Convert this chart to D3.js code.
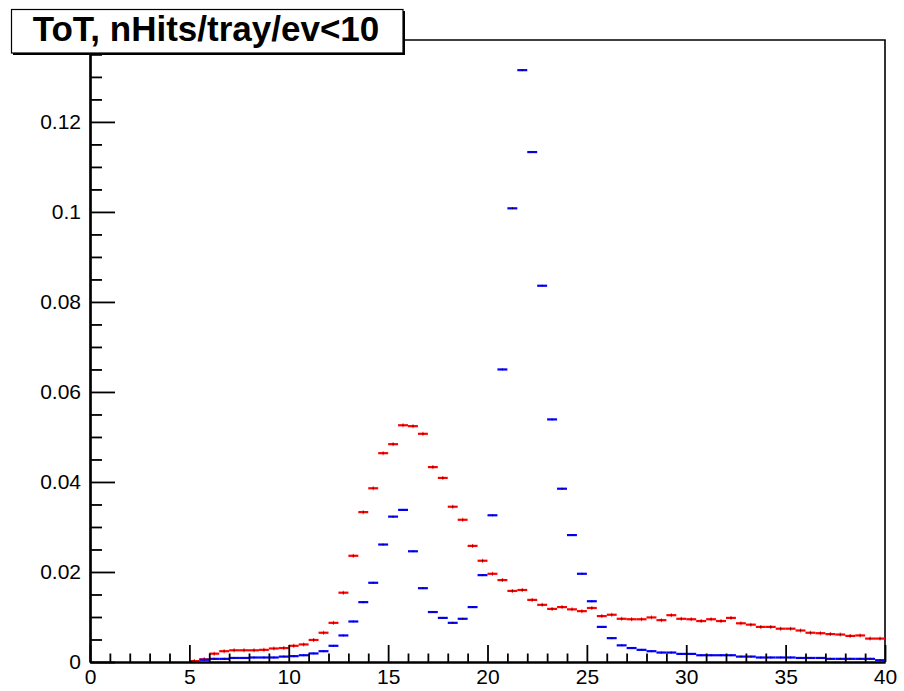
<!DOCTYPE html>
<html>
<head>
<meta charset="utf-8">
<script src="https://cdn.jsdelivr.net/npm/d3@7"></script>
<style>
  html, body { margin: 0; padding: 0; background: #fff; }
  svg { display: block; font-family: "Liberation Sans", Arial, Helvetica, sans-serif; }
</style>
</head>
<body>
<svg id="chart" width="904" height="691"></svg>
<script>
// ---- Data (ToT histograms, bin width 0.5) ----
const binLow = [0,0.5,1,1.5,2,2.5,3,3.5,4,4.5,5,5.5,6,6.5,7,7.5,8,8.5,9,9.5,
  10,10.5,11,11.5,12,12.5,13,13.5,14,14.5,15,15.5,16,16.5,17,17.5,18,18.5,19,19.5,
  20,20.5,21,21.5,22,22.5,23,23.5,24,24.5,25,25.5,26,26.5,27,27.5,28,28.5,29,29.5,
  30,30.5,31,31.5,32,32.5,33,33.5,34,34.5,35,35.5,36,36.5,37,37.5,38,38.5,39,39.5];
const binWidth = 0.5;

const redValues = [null,null,null,null,null,null,null,null,null,null,
  0.0002,0.0006,0.00185,0.0024,0.0026,0.0026,0.0026,0.0027,0.0030,0.0031,
  0.0036,0.0039,0.0049,0.0065,0.0087,0.0154,0.0236,0.0333,0.0386,0.0464,
  0.0484,0.0526,0.0524,0.0507,0.0433,0.0409,0.0345,0.0316,0.0258,0.0225,
  0.0196,0.0182,0.0158,0.0160,0.0138,0.0127,0.0118,0.0122,0.0117,0.0113,
  0.0120,0.0102,0.0105,0.0096,0.0095,0.0095,0.0099,0.0093,0.0104,0.0096,
  0.0095,0.0091,0.0095,0.0091,0.0098,0.0086,0.0083,0.0078,0.0078,0.0074,
  0.0074,0.0070,0.0065,0.0064,0.0062,0.0061,0.0058,0.0059,0.0052,0.0052];

const blueValues = [null,null,null,null,null,null,null,null,null,null,
  null,0.0005,0.0007,0.0007,0.0009,0.0009,0.0010,0.0010,0.0010,0.0012,
  0.0013,0.0015,0.0019,0.0024,0.0036,0.0059,0.0090,0.0133,0.0176,0.0261,
  0.0323,0.0338,0.0246,0.0164,0.0111,0.0098,0.0087,0.0096,0.0122,0.0193,
  0.0326,0.0650,0.1008,0.1315,0.1133,0.0836,0.0539,0.0385,0.0282,0.0196,
  0.0135,0.0078,0.0053,0.0037,0.0031,0.0027,0.0024,0.0021,0.0021,0.0018,
  0.0018,0.0015,0.0015,0.0015,0.0015,0.0012,0.0012,0.0010,0.0010,0.0010,
  0.0010,0.0009,0.0009,0.0009,0.0007,0.0007,0.0007,0.0007,0.0007,0.0004];

const xMajorTicks = [0,5,10,15,20,25,30,35,40];
const xMinorTicks = [1,2,3,4,6,7,8,9,11,12,13,14,16,17,18,19,21,22,23,24,26,27,28,29,31,32,33,34,36,37,38,39];
const yMajorTicks = [0,0.02,0.04,0.06,0.08,0.1,0.12];
const yTickLabels = ["0","0.02","0.04","0.06","0.08","0.1","0.12"];
const yMinorTicks = [0.005,0.01,0.015,0.025,0.03,0.035,0.045,0.05,0.055,0.065,0.07,0.075,
  0.085,0.09,0.095,0.105,0.11,0.115,0.125,0.13,0.135];
const titleText = "ToT, nHits/tray/ev<10";

// ---- Layout ----
const L = 90, R = 885, T = 40, B = 662;
const svg = d3.select("#chart");
const x = d3.scaleLinear().domain([0, 40]).range([L, R]);
const y = d3.scaleLinear().domain([0, 0.1382]).range([B, T]);

// frame (top & right)
svg.append("path")
  .attr("d", `M${L},${T}H${R}V${B}`)
  .attr("fill", "none").attr("stroke", "#000").attr("stroke-width", 1.6);

// ---- Histograms ----
function drawHist(values, color, errPx) {
  const data = binLow.map((lo, i) => ({lo, v: values[i]})).filter(d => d.v !== null);
  const g = svg.append("g");
  g.selectAll("line.h").data(data).join("line")
    .attr("x1", d => x(d.lo)).attr("x2", d => x(d.lo + binWidth))
    .attr("y1", d => y(d.v)).attr("y2", d => y(d.v))
    .attr("stroke", color).attr("stroke-width", 2.2);
  g.selectAll("line.v").data(data).join("line")
    .attr("x1", d => x(d.lo + binWidth / 2)).attr("x2", d => x(d.lo + binWidth / 2))
    .attr("y1", d => y(d.v) - errPx).attr("y2", d => y(d.v) + errPx)
    .attr("stroke", color).attr("stroke-width", 1.1).attr("stroke-opacity", 0.8);
  g.selectAll("rect.m").data(data).join("rect")
    .attr("x", d => x(d.lo + binWidth / 2) - 0.6)
    .attr("y", d => y(d.v) - 0.6)
    .attr("width", 1.2).attr("height", 1.2)
    .attr("fill", "#300");
}
drawHist(redValues, "#ff0000", 2.0);
drawHist(blueValues, "#0000ff", 1.0);

// ---- Axes ----
const xAxisMajor = d3.axisBottom(x).tickValues(xMajorTicks).tickSizeInner(-17).tickSizeOuter(0)
  .tickPadding(7).tickFormat(d3.format("d"));
const xAxisMinor = d3.axisBottom(x).tickValues(xMinorTicks).tickSizeInner(-8.5).tickSizeOuter(0)
  .tickFormat("");
const gxMinor = svg.append("g").attr("transform", `translate(0,${B})`).call(xAxisMinor);
const gx = svg.append("g").attr("transform", `translate(0,${B})`).call(xAxisMajor);

const yAxisMajor = d3.axisLeft(y).tickValues(yMajorTicks).tickSizeInner(-25).tickSizeOuter(0)
  .tickPadding(9).tickFormat((d, i) => yTickLabels[i]);
const yAxisMinor = d3.axisLeft(y).tickValues(yMinorTicks).tickSizeInner(-12).tickSizeOuter(0)
  .tickFormat("");
const gyMinor = svg.append("g").attr("transform", `translate(${L},0)`).call(yAxisMinor);
const gy = svg.append("g").attr("transform", `translate(${L},0)`).call(yAxisMajor);

[gx, gxMinor, gy, gyMinor].forEach(g => {
  g.select(".domain").attr("stroke", "#000").attr("stroke-width", 2.2);
  g.selectAll(".tick line").attr("stroke", "#000").attr("stroke-width", 1.8);
  g.selectAll(".tick text").attr("fill", "#000").style("font-size", "21px")
    .style("font-family", '"Liberation Sans", Arial, Helvetica, sans-serif');
});
gx.selectAll(".tick text").attr("dy", "0.71em");

// ---- Title box ----
const tb = svg.append("g");
tb.append("rect").attr("x", 13).attr("y", 11).attr("width", 392).attr("height", 44).attr("fill", "#000");
tb.append("rect").attr("x", 11.5).attr("y", 9.5).attr("width", 391.5).attr("height", 43.5)
  .attr("fill", "#fff").attr("stroke", "#000").attr("stroke-width", 1.2);
tb.append("text").attr("x", 206).attr("y", 41).attr("text-anchor", "middle")
  .style("font-size", "35px").style("font-weight", "bold").attr("fill", "#000")
  .text(titleText);
</script>
</body>
</html>
